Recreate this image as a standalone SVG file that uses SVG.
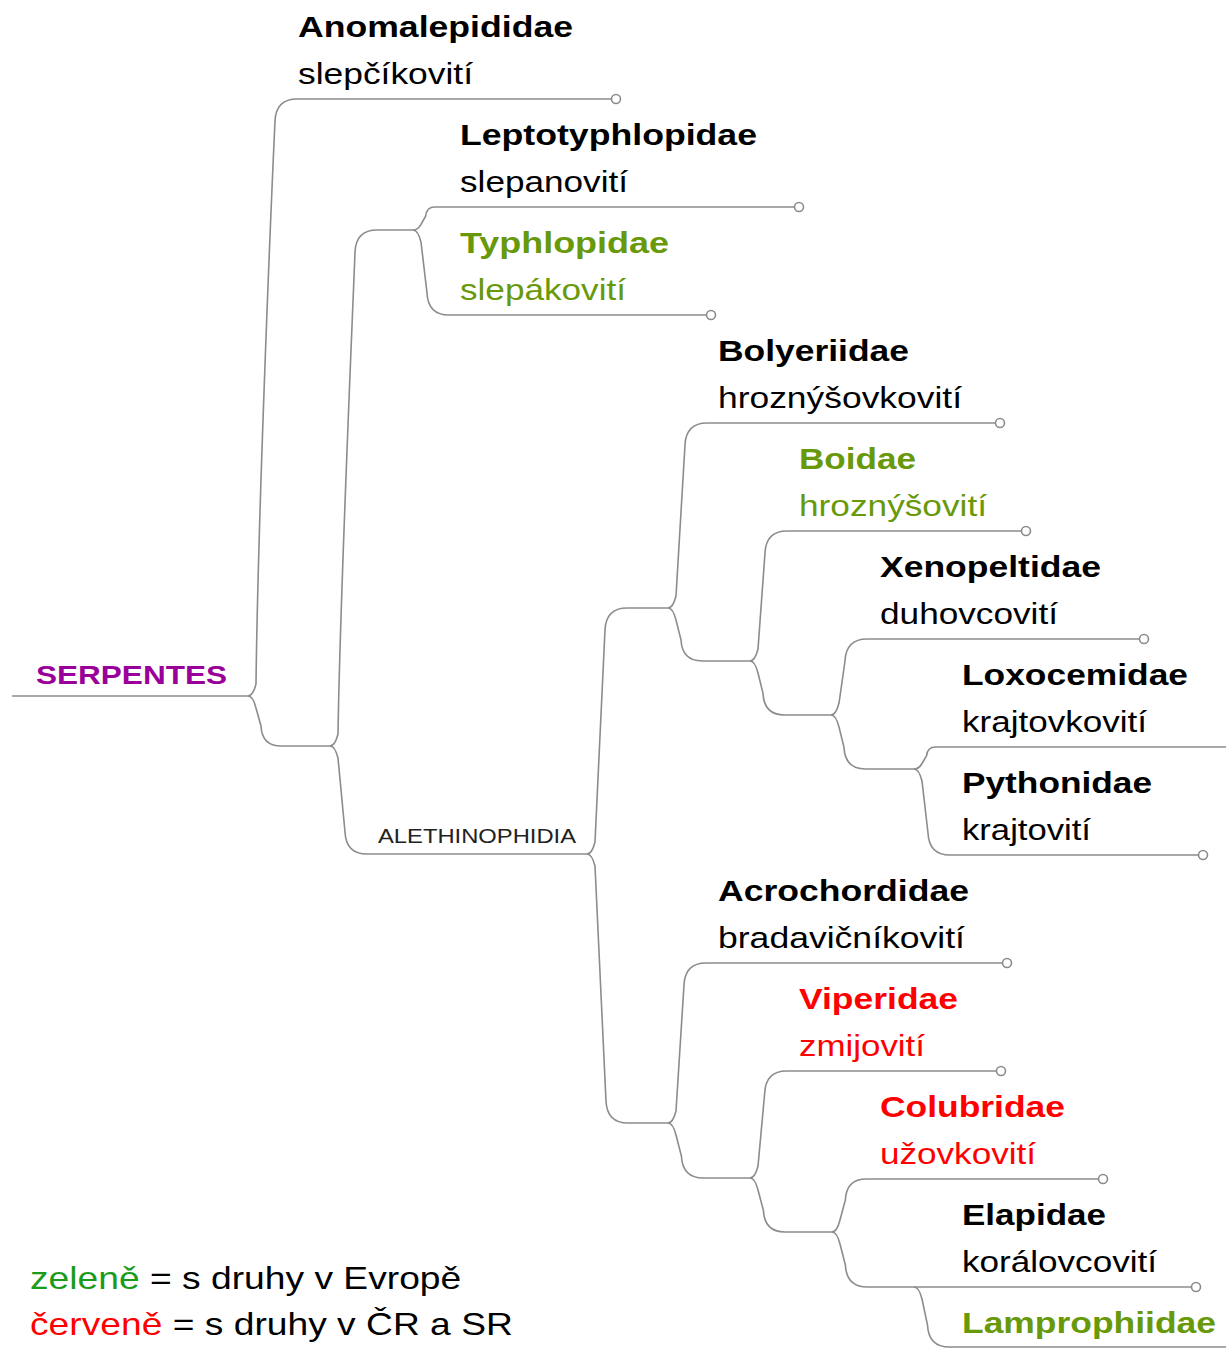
<svg xmlns="http://www.w3.org/2000/svg" width="1226" height="1350" viewBox="0 0 1226 1350">
<defs>
<style>
text { font-family: "Liberation Sans", Arial, sans-serif; }
.b { font-weight: bold; font-size: 30px; fill: #000; }
.r { font-size: 30px; fill: #000; }
.g { fill: #68990a; }
.red { fill: #ff0000; }
.edge { fill: none; stroke: #8c8c8c; stroke-width: 1.6; }
.dot { marker-end: url(#dot); }
.leg { font-size: 30.5px; fill: #000; }
</style>
<marker id="dot" markerUnits="userSpaceOnUse" markerWidth="12" markerHeight="12" refX="6" refY="6" viewBox="0 0 12 12" overflow="visible">
<circle cx="6" cy="6" r="4.5" fill="#fff" stroke="#8c8c8c" stroke-width="1.6"/>
</marker>
</defs>
<rect width="1226" height="1350" fill="#fff"/>

<g id="connectors">
<path class="edge" d="M12,696 L248,696"/>
<path class="edge dot" d="M248,696 Q253,696 256,684 C258,520 270,230 275,121 Q276,99 297,99 L616,99"/>
<path class="edge" d="M248,696 Q253,696 256,708 L261,726 Q262,746 281,746 L330,746"/>
<path class="edge" d="M330,746 Q335,746 338,734 C340,600 352,330 355,252 Q356,230 377,230 L413,230"/>
<path class="edge" d="M330,746 Q335,746 338,758 L345,832 Q346,854 367,854 L587,854"/>
<path class="edge dot" d="M413,230 Q418,230 421,224.3 L425.6,216.2 Q426.6,207 434.8,207 L799,207"/>
<path class="edge dot" d="M413,230 Q418,230 421,242 L427,293 Q428,315 449,315 L711,315"/>
<path class="edge" d="M587,854 Q592,854 595,842 L605,630 Q606,608 627,608 L668,608"/>
<path class="edge" d="M587,854 Q592,854 595,866 L606,1101 Q607,1123 628,1123 L668,1123"/>
<path class="edge dot" d="M668,608 Q673,608 676,596 L685,445 Q686,423 707,423 L1000,423"/>
<path class="edge" d="M668,608 Q673,608 676,620 L681,639.8 Q682,661 702.2,661 L750,661"/>
<path class="edge dot" d="M750,661 Q755,661 758,649 L765,553 Q766,531 787,531 L1026,531"/>
<path class="edge" d="M750,661 Q755,661 758,673 L763,693.4 Q764,715 784.6,715 L831,715"/>
<path class="edge dot" d="M831,715 Q836,715 839,703 L845,661 Q846,639 867,639 L1144,639"/>
<path class="edge" d="M831,715 Q836,715 839,727 L844,747.4 Q845,769 865.6,769 L914,769"/>
<path class="edge" d="M914,769 Q919,769 922,763.5 L926.5,755.8 Q927.5,747 935.3,747 L1230,747"/>
<path class="edge dot" d="M914,769 Q919,769 922,781 L928,833 Q929,855 950,855 L1203,855"/>
<path class="edge dot" d="M668,1123 Q673,1123 676,1111 L684,985 Q685,963 706,963 L1007,963"/>
<path class="edge" d="M668,1123 Q673,1123 676,1135 L681.4,1156 Q682.4,1178 703.4,1178 L750,1178"/>
<path class="edge dot" d="M750,1178 Q755,1178 758,1166 L764.7,1093 Q765.7,1071 786.7,1071 L1001,1071"/>
<path class="edge" d="M750,1178 Q755,1178 758,1190 L763.4,1210.4 Q764.4,1232 785,1232 L832,1232"/>
<path class="edge dot" d="M832,1232 Q837,1232 840,1220 L845.3,1200.2 Q846.3,1179 866.5,1179 L1103,1179"/>
<path class="edge" d="M832,1232 Q837,1232 840,1244 L845.4,1265 Q846.4,1287 867.4,1287 L914,1287"/>
<path class="edge dot" d="M914,1287 L1196,1287"/>
<path class="edge" d="M914,1287 Q919,1287 922,1299 L927.5,1325 Q928.5,1347 949.5,1347 L1230,1347"/>
</g>

<g id="serpentes"><text x="36" y="684" textLength="191" lengthAdjust="spacingAndGlyphs" style="font-weight:bold;font-size:26px;fill:#990099">SERPENTES</text></g>
<g id="alethinophidia"><text x="378" y="843" textLength="198" lengthAdjust="spacingAndGlyphs" style="font-size:19.5px;fill:#222">ALETHINOPHIDIA</text></g>

<g id="anomalepididae">
<text class="b" x="298" y="37" textLength="275" lengthAdjust="spacingAndGlyphs">Anomalepididae</text>
<text class="r" x="298" y="84" textLength="175" lengthAdjust="spacingAndGlyphs">slepčíkovití</text>
</g>
<g id="leptotyphlopidae">
<text class="b" x="460" y="145" textLength="297" lengthAdjust="spacingAndGlyphs">Leptotyphlopidae</text>
<text class="r" x="460" y="192" textLength="168" lengthAdjust="spacingAndGlyphs">slepanovití</text>
</g>
<g id="typhlopidae">
<text class="b g" x="460" y="253" textLength="209" lengthAdjust="spacingAndGlyphs">Typhlopidae</text>
<text class="r g" x="460" y="300" textLength="166" lengthAdjust="spacingAndGlyphs">slepákovití</text>
</g>
<g id="bolyeriidae">
<text class="b" x="718" y="361" textLength="191" lengthAdjust="spacingAndGlyphs">Bolyeriidae</text>
<text class="r" x="718" y="408" textLength="244" lengthAdjust="spacingAndGlyphs">hroznýšovkovití</text>
</g>
<g id="boidae">
<text class="b g" x="799" y="469" textLength="117" lengthAdjust="spacingAndGlyphs">Boidae</text>
<text class="r g" x="799" y="516" textLength="188" lengthAdjust="spacingAndGlyphs">hroznýšovití</text>
</g>
<g id="xenopeltidae">
<text class="b" x="880" y="577" textLength="221" lengthAdjust="spacingAndGlyphs">Xenopeltidae</text>
<text class="r" x="880" y="624" textLength="178" lengthAdjust="spacingAndGlyphs">duhovcovití</text>
</g>
<g id="loxocemidae">
<text class="b" x="962" y="685" textLength="226" lengthAdjust="spacingAndGlyphs">Loxocemidae</text>
<text class="r" x="962" y="732" textLength="185" lengthAdjust="spacingAndGlyphs">krajtovkovití</text>
</g>
<g id="pythonidae">
<text class="b" x="962" y="793" textLength="190" lengthAdjust="spacingAndGlyphs">Pythonidae</text>
<text class="r" x="962" y="840" textLength="129" lengthAdjust="spacingAndGlyphs">krajtovití</text>
</g>
<g id="acrochordidae">
<text class="b" x="718" y="901" textLength="251" lengthAdjust="spacingAndGlyphs">Acrochordidae</text>
<text class="r" x="718" y="948" textLength="247" lengthAdjust="spacingAndGlyphs">bradavičníkovití</text>
</g>
<g id="viperidae">
<text class="b red" x="799" y="1009" textLength="159" lengthAdjust="spacingAndGlyphs">Viperidae</text>
<text class="r red" x="799" y="1056" textLength="126" lengthAdjust="spacingAndGlyphs">zmijovití</text>
</g>
<g id="colubridae">
<text class="b red" x="880" y="1117" textLength="185" lengthAdjust="spacingAndGlyphs">Colubridae</text>
<text class="r red" x="880" y="1164" textLength="156" lengthAdjust="spacingAndGlyphs">užovkovití</text>
</g>
<g id="elapidae">
<text class="b" x="962" y="1225" textLength="144" lengthAdjust="spacingAndGlyphs">Elapidae</text>
<text class="r" x="962" y="1272" textLength="195" lengthAdjust="spacingAndGlyphs">korálovcovití</text>
</g>
<g id="lamprophiidae">
<text class="b g" x="962" y="1333" textLength="254" lengthAdjust="spacingAndGlyphs">Lamprophiidae</text>
</g>

<g id="legend">
<text class="leg" transform="translate(30 1289) scale(1.22 1)"><tspan fill="#1a9c1a">zeleně</tspan> = s druhy v Evropě</text>
<text class="leg" transform="translate(30 1335) scale(1.22 1)"><tspan fill="#ff0000">červeně</tspan> = s druhy v ČR a SR</text>
</g>
</svg>
